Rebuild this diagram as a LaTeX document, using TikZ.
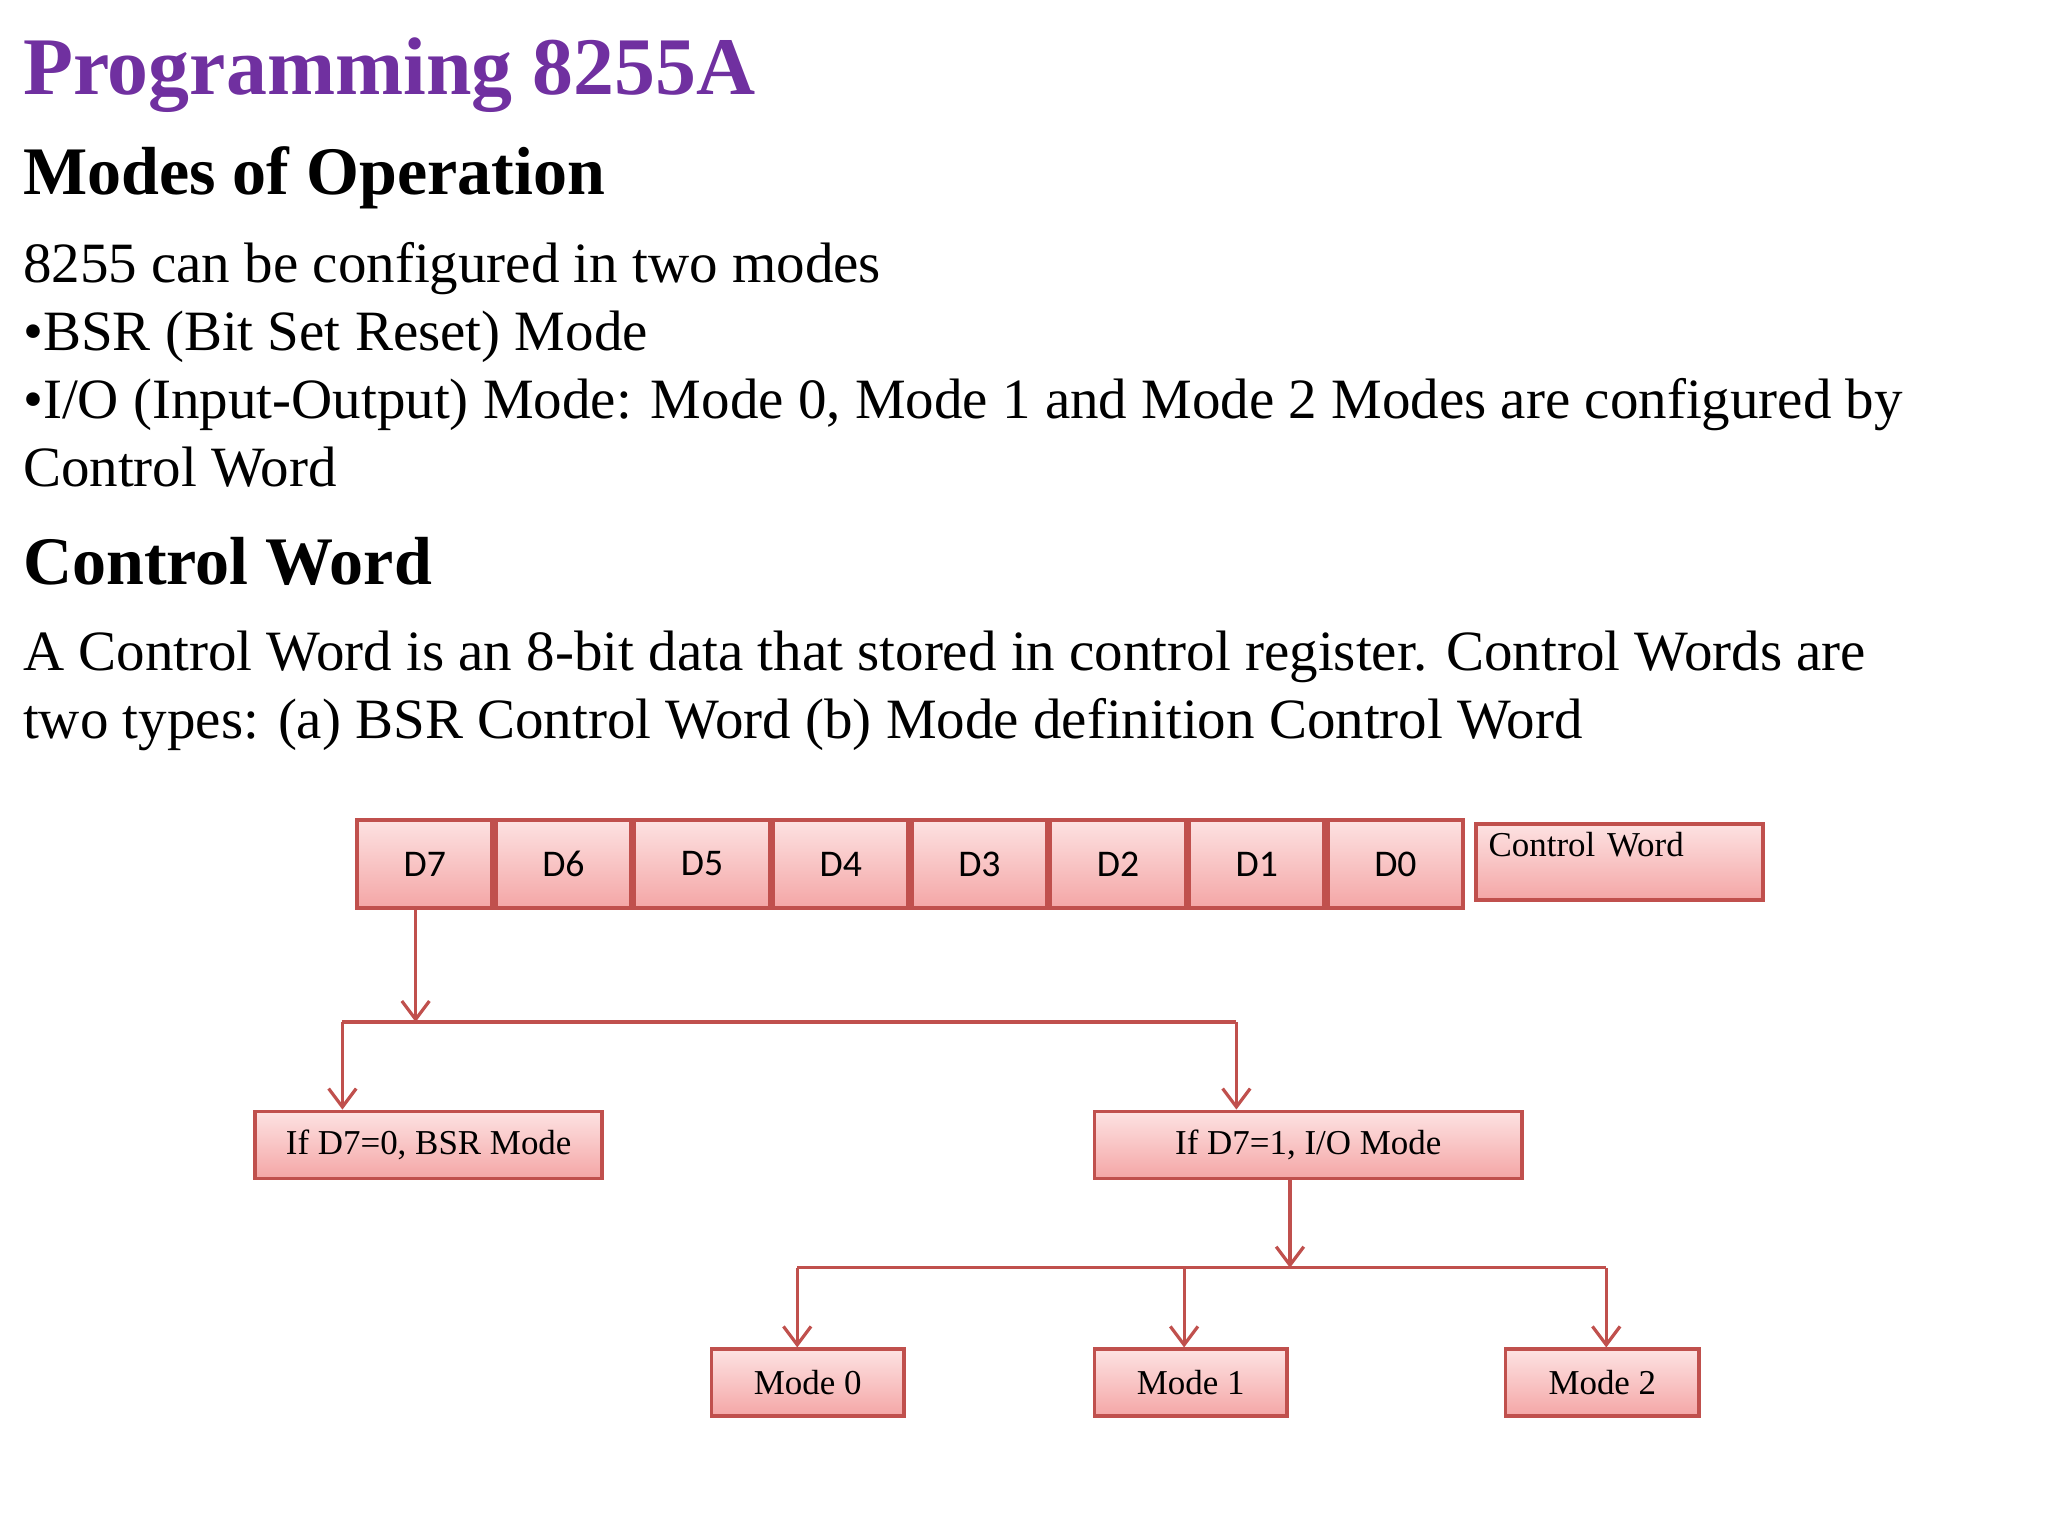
\documentclass[tikz,border=0pt]{standalone}
\usepackage{fontspec}
\setmainfont{Liberation Serif}
\newfontfamily\carlitofont{Carlito}
\usetikzlibrary{arrows.meta}
\definecolor{ttl}{HTML}{7030A0}
\definecolor{edge}{HTML}{C0504D}
\definecolor{pinkb}{HTML}{F4A6A6}
\definecolor{pinkt}{HTML}{FDE2E2}
\begin{document}
\begin{tikzpicture}[x=0.01cm,y=-0.01cm,
  txt/.style={anchor=base west,inner sep=0pt,font=\fontsize{12.4}{14}\selectfont},
  hd/.style={anchor=base west,inner sep=0pt,font=\fontsize{14.8}{18}\selectfont\bfseries},
  box/.style={draw=edge,line width=0.8pt,top color=pinkt,bottom color=pinkb,inner sep=0pt},
  bl/.style={font=\fontsize{7.6}{9}\selectfont},
  con/.style={edge,line width=0.7pt},
  arr/.style={con,-{Straight Barb[length=4pt,width=6pt]}}]
\useasboundingbox (0,0) rectangle (1567,1175);
\node[anchor=base west,inner sep=0pt,text=ttl,font=\fontsize{17.8}{22}\selectfont\bfseries] (title) at (17,72) {Programming 8255A};
\node[hd] (h1) at (17,149) {Modes of Operation};
\node[txt] (l1) at (17,216) {8255 can be configured in two modes};
\node[txt] (l2) at (17,268) {•BSR (Bit Set Reset) Mode};
\node[txt] (l3) at (17,320) {•I/O (Input-Output) Mode: Mode 0, Mode 1 and Mode 2 Modes are configured by};
\node[txt] (l4) at (17,372) {Control Word};
\node[hd] (h2) at (17,447) {Control Word};
\node[txt] (l5) at (17,513) {A Control Word is an 8-bit data that stored in control register. Control Words are};
\node[txt] (l6) at (17,565) {two types: (a) BSR Control Word (b) Mode definition Control Word};
% bit boxes
\foreach \n [count=\i from 0] in {7,6,5,4,3,2,1,0}{
  \node[box,minimum width=1.06cm-0.8pt,minimum height=0.70cm-0.8pt,font=\carlitofont\fontsize{8.2}{10}\selectfont] (d\n) at (325+106.1*\i,661) {D\n};
}
\node[box,bl,minimum width=2.22cm-0.8pt,minimum height=0.61cm-0.8pt,anchor=north west,align=left,text width=2.0cm,text height=0.2cm,text depth=0.28cm] (cw) at (1128,629) {Control Word};
\node[box,bl,minimum width=2.68cm-0.8pt,minimum height=0.54cm-0.8pt] (bsr) at (328,876) {If D7=0, BSR Mode};
\node[box,bl,minimum width=3.30cm-0.8pt,minimum height=0.54cm-0.8pt] (io) at (1001,876) {If D7=1, I/O Mode};
\node[box,bl,minimum width=1.50cm-0.8pt,minimum height=0.54cm-0.8pt] (m0) at (618,1058) {Mode 0};
\node[box,bl,minimum width=1.50cm-0.8pt,minimum height=0.54cm-0.8pt] (m1) at (911,1058) {Mode 1};
\node[box,bl,minimum width=1.51cm-0.8pt,minimum height=0.54cm-0.8pt] (m2) at (1226,1058) {Mode 2};
% connectors
\coordinate (j1) at (318,782);
\coordinate (j2) at (987,970);
\coordinate (a) at (262,782);
\coordinate (b) at (946,782);
\coordinate (c0) at (610,970);
\coordinate (c1) at (906,970);
\coordinate (c2) at (1229,970);
\draw[arr] (d7.south -| j1) -- (j1);
\draw[con] (a) -- (b);
\draw[arr] (a) -- (a |- bsr.north);
\draw[arr] (b) -- (b |- io.north);
\draw[arr] (io.south -| j2) -- (j2);
\draw[con] (c0) -- (c2);
\draw[arr] (c0) -- (c0 |- m0.north);
\draw[arr] (c1) -- (c1 |- m1.north);
\draw[arr] (c2) -- (c2 |- m2.north);
\end{tikzpicture}
\end{document}
